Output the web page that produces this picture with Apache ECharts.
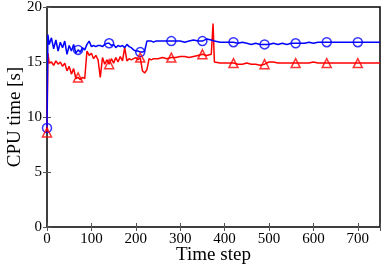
<!DOCTYPE html>
<html><head><meta charset="utf-8">
<script src="https://cdn.jsdelivr.net/npm/echarts@6/dist/echarts.min.js"></script>
<style>html,body{margin:0;padding:0;background:#fff}#c{width:381px;height:267px}</style>
</head><body><div id="c"></div>
<script>
var steps = [0,2,5,10,15,20,25,30,35,40,45,50,55,60,65,70,75,80,85,90,95,100,105,110,115,120,125,130,135,140,145,150,155,160,165,170,175,180,185,190,195,200,205,210,215,220,225,230,235,240,245,250,
260,270,280,290,300,310,320,330,340,350,360,370,374,377,380,390,400,410,420,430,440,450,460,470,480,490,500,510,520,530,540,550,560,570,580,590,600,610,620,630,640,650,660,670,680,690,700,710,720,730,740,750];
var blueTimes = [9.0,17.5,16.6,17.2,16.2,17.0,16.0,16.8,16.3,16.9,15.7,16.5,16.0,16.6,15.8,16.1,15.9,16.3,16.1,16.6,16.9,16.4,16.5,16.4,16.5,16.5,16.4,16.6,16.7,16.7,16.5,16.6,16.3,16.5,16.4,16.5,16.3,16.6,16.4,16.3,16.1,16.0,16.0,15.9,15.9,16.0,16.9,16.9,16.9,16.8,16.9,16.9,
16.9,16.9,16.9,16.9,16.9,16.8,16.9,17.0,16.9,16.9,17.1,17.0,17.0,16.9,16.8,16.8,16.8,16.8,16.8,16.7,16.8,16.7,16.6,16.7,16.6,16.6,16.6,16.7,16.6,16.7,16.6,16.7,16.7,16.7,16.7,16.8,16.7,16.8,16.8,16.8,16.8,16.8,16.8,16.8,16.8,16.8,16.8,16.8,16.8,16.8,16.8,16.8];
var redTimes = [8.6,15.8,14.9,15.0,14.7,15.1,14.8,15.0,14.6,14.9,14.2,14.6,13.9,14.4,13.5,13.6,13.4,13.6,13.5,16.0,15.6,15.8,15.3,15.6,15.2,13.6,15.4,14.8,15.2,14.8,15.3,14.9,15.4,15.0,15.5,15.1,16.3,15.1,15.3,15.2,15.3,15.4,15.2,15.4,14.2,14.0,14.3,15.3,15.2,15.3,15.3,15.3,
15.4,15.3,15.4,15.4,15.5,15.5,15.4,15.5,15.6,15.7,15.6,15.7,18.5,15.0,14.9,14.9,14.9,14.9,14.9,14.8,14.8,14.9,14.8,14.8,14.7,14.8,15.0,15.0,14.9,14.9,14.9,14.9,14.9,14.9,14.9,14.9,15.0,14.9,14.9,14.9,14.9,14.9,14.9,14.9,14.9,14.9,14.9,14.9,14.9,14.9,14.9,14.9];
var markerSteps = [0,70,140,210,280,350,420,490,560,630,700];
var xTicks = [0,100,200,300,400,500,600,700];
var yTicks = [0,5,10,15,20];

function pairs(vals){ return steps.map(function(s,i){return [s,vals[i]];}); }
function marks(vals){ return markerSteps.map(function(m){var i=steps.indexOf(m);return [m,vals[i]];}); }

var font = 'Liberation Serif';
var chart = echarts.init(document.getElementById('c'), null, {renderer:'canvas'});
var tickStyle = {show:true, inside:true, length:4, lineStyle:{color:'#555', width:1}};
chart.setOption({
  animation:false,
  grid:{left:47, top:7, width:333, height:220, containLabel:false, outerBoundsMode:'none', show:true, borderColor:'#000', borderWidth:1.5, backgroundColor:'transparent'},
  xAxis:[{type:'value', min:0, max:750, interval:100, position:'bottom',
    axisLine:{show:false}, axisTick:tickStyle, splitLine:{show:false},
    axisLabel:{fontFamily:font, fontSize:15, color:'#000', margin:5,
      formatter:function(v){return xTicks.indexOf(v)>=0?String(v):'';}},
    name:'Time step', nameLocation:'middle', nameGap:19, nameMoveOverlap:false, nameTextStyle:{fontFamily:font, fontSize:19, color:'#000', verticalAlign:'top'}},
    {type:'value', min:0, max:750, interval:100, position:'top', axisLine:{show:false}, axisTick:tickStyle, axisLabel:{show:false}, splitLine:{show:false}}],
  yAxis:[{type:'value', min:0, max:20, interval:5, position:'left',
    axisLine:{show:false}, axisTick:tickStyle, splitLine:{show:false},
    axisLabel:{fontFamily:font, fontSize:15, color:'#000', margin:5,
      formatter:function(v){return yTicks.indexOf(v)>=0?String(v):'';}},
    name:'CPU time [s]', nameLocation:'middle', nameGap:22, nameMoveOverlap:false, nameTextStyle:{fontFamily:font, fontSize:19, color:'#000', verticalAlign:'bottom'}},
    {type:'value', min:0, max:20, interval:5, position:'right', axisLine:{show:false}, axisTick:tickStyle, axisLabel:{show:false}, splitLine:{show:false}}],
  series:[
    {type:'line', data:pairs(blueTimes), showSymbol:false, lineStyle:{color:'#0000ff', width:1.5}, z:3},
    {type:'line', data:pairs(redTimes), showSymbol:false, lineStyle:{color:'#ff0000', width:1.5}, z:2},
    {type:'scatter', data:marks(blueTimes), symbol:'circle', symbolSize:9, itemStyle:{color:'rgba(0,0,0,0)', borderColor:'#0000ff', borderWidth:1.5}, z:4},
    {type:'scatter', data:marks(redTimes), symbol:'triangle', symbolSize:9, itemStyle:{color:'rgba(0,0,0,0)', borderColor:'#ff0000', borderWidth:1.5}, z:4}
  ]
});
</script></body></html>
